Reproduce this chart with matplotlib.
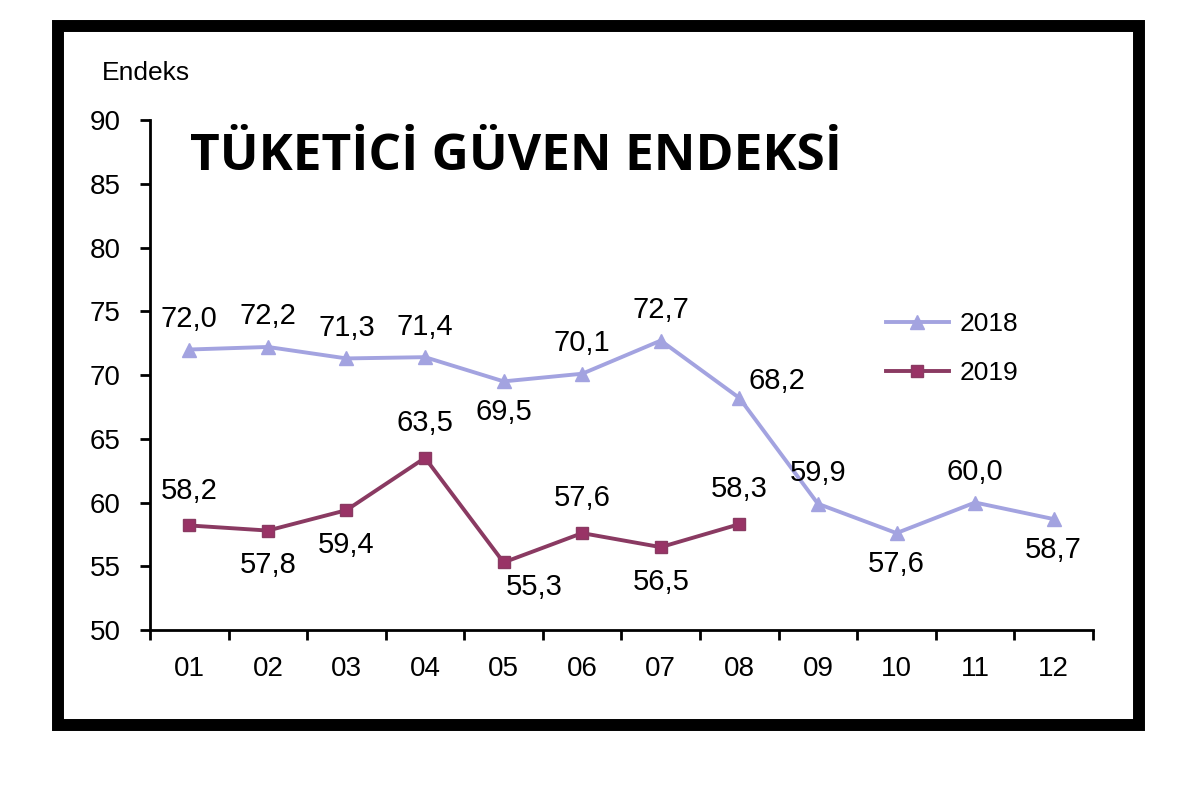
import matplotlib
matplotlib.use('Agg')
import matplotlib.pyplot as plt
from matplotlib.patches import Rectangle

# data
months = ['01', '02', '03', '04', '05', '06', '07', '08', '09', '10', '11', '12']
values_2018 = [72.0, 72.2, 71.3, 71.4, 69.5, 70.1, 72.7, 68.2, 59.9, 57.6, 60.0, 58.7]
values_2019 = [58.2, 57.8, 59.4, 63.5, 55.3, 57.6, 56.5, 58.3]
# label above (1) or below (-1) the point
pos_2018 = [1, 1, 1, 1, -1, 1, 1, 1, 1, -1, 1, -1]
pos_2019 = [1, -1, -1, 1, -1, 1, -1, 1]
yticks = [50, 55, 60, 65, 70, 75, 80, 85, 90]

plt.rcParams['font.family'] = ['Liberation Sans', 'DejaVu Sans']

fig = plt.figure(figsize=(12, 7.88), dpi=100)
ax = fig.add_axes([0.125, 0.2005, 0.7858, 0.6472])

# thick black frame around the chart
fig.patches.append(Rectangle((58 / 1200, 1 - 725 / 788), (1139 - 58) / 1200, (725 - 26) / 788,
                             transform=fig.transFigure, fill=False, edgecolor='black',
                             linewidth=8.6, zorder=0))

x18 = range(len(values_2018))
x19 = range(len(values_2019))
c18 = '#a3a3e0'
c19 = '#8a3a62'
ax.plot(x18, values_2018, color=c18, lw=2.8, marker='^', markersize=10, label='2018')
ax.plot(x19, values_2019, color=c19, lw=2.8, marker='s', markersize=8.5,
        markerfacecolor='#993366', label='2019')

for i, (v, p) in enumerate(zip(values_2018, pos_2018)):
    off = (27, 12) if i == 7 else (0, 22 * p)
    ax.annotate(f'{v:.1f}'.replace('.', ','), (i, v), xytext=off,
                textcoords='offset points', ha='center', va='center', fontsize=21)
for i, (v, p) in enumerate(zip(values_2019, pos_2019)):
    off = (22, -18) if i == 4 else (0, 25 * p)
    ax.annotate(f'{v:.1f}'.replace('.', ','), (i, v), xytext=off,
                textcoords='offset points', ha='center', va='center', fontsize=21)

ax.set_xlim(-0.5, 11.5)
ax.set_ylim(50, 90)
ax.set_yticks(yticks)
ax.set_xticks(range(len(months)))
ax.set_xticklabels(months)
ax.set_xticks([i - 0.5 for i in range(len(months) + 1)], minor=True)
ax.tick_params(axis='x', which='major', length=0, labelsize=20, pad=19)
ax.tick_params(axis='x', which='minor', length=7, width=2, direction='out')
ax.tick_params(axis='y', length=7, width=2, labelsize=20, pad=14)
for s in ['top', 'right']:
    ax.spines[s].set_visible(False)
for s in ['left', 'bottom']:
    ax.spines[s].set_linewidth(2)

fig.text(102 / 1200, 1 - 73 / 788, 'Endeks', fontsize=19, va='center', ha='left')
fig.text(190 / 1200, 1 - 157 / 788, 'TÜKETİCİ GÜVEN ENDEKSİ', fontsize=37,
         fontweight='bold', family=['Open Sans', 'DejaVu Sans'], va='center', ha='left')

ax.legend(loc='upper left', bbox_to_anchor=(0.755, 0.67), frameon=False, fontsize=19,
          handlelength=2.4, labelspacing=0.95, handletextpad=0.4)

fig.savefig('out.png', dpi=100)
